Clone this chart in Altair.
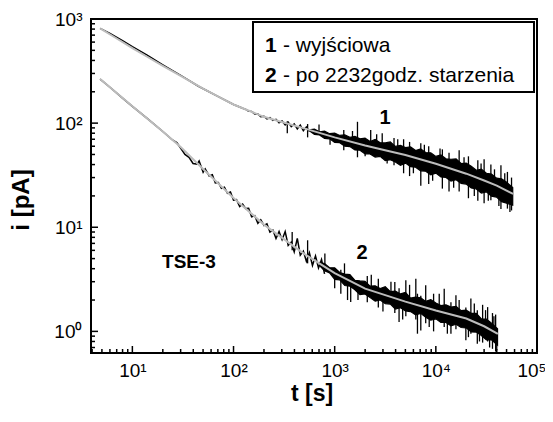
import altair as alt
import pandas as pd
import math

# ---------------- data ----------------
# grey fitted curves
t1_fit = [4.8, 7, 10, 14, 20, 30, 50, 70, 100, 200, 300, 500, 1000, 2000, 3000, 5000, 10000, 20000, 30000, 40000, 58000]
i1_fit = [813, 650, 525, 434, 355, 284, 214, 181, 151, 115, 102.6, 89, 73, 61, 55.6, 49.5, 40.7, 32.7, 28.1, 25.1, 20.9]
t2_fit = [4.8, 7, 10, 14, 20, 30, 50, 100, 200, 300, 500, 1000, 2000, 5000, 10000, 20000, 30000, 41000]
i2_fit = [265, 194.5, 145, 110.7, 83.2, 58.9, 36.3, 19.1, 10.6, 7.96, 5.56, 3.63, 2.57, 1.93, 1.585, 1.33, 1.12, 0.944]

# black measured curves (low-noise part)
t1_line = [4.8, 6, 8, 10, 14, 20, 30, 45, 70, 100, 125, 132, 141, 151, 162, 174, 186, 200, 214, 229, 245,
           263, 282, 302, 324, 347, 372, 398, 427, 457, 490, 525, 562]
i1_line = [813, 729, 621, 543, 449, 363, 287, 226, 181, 151, 138, 135.5, 130.3, 129.7, 122.5, 122.2, 115.3,
           116.1, 109.6, 112.7, 106.2, 108.9, 100.9, 105.0, 96.2, 102.1, 92.5, 98.2, 87.9, 95.7, 84.5, 92.0, 83.4]
t2_line = [4.8, 6, 8, 10, 14, 20, 25.1, 27.5, 30.2, 33.1, 36.3, 39.8, 43.7, 45.7, 50.1, 52.5, 57.5, 61.7,
           66.1, 70.8, 75.9, 81.3, 87.1, 93.3, 100, 107, 115, 123, 132, 141, 151, 162, 174, 186, 200, 214, 229,
           245, 263, 282, 302, 324, 347, 372, 398, 427, 457, 490, 525, 562, 603, 646, 692, 741, 794]
i2_line = [265, 221, 174, 145, 111, 83.2, 68.5, 64.9, 57.1, 50.0, 46.9, 41.0, 40.4, 43.4, 33.8, 36.3, 31.1,
           32.0, 26.7, 26.9, 23.6, 24.2, 21.2, 21.8, 18.2, 18.4, 15.8, 16.7, 15.1, 15.2, 12.6, 12.9, 10.9, 11.8,
           10.4, 10.8, 9.0, 9.4, 7.8, 9.1, 7.6, 9.1, 6.7, 7.2, 5.8, 7.8, 5.4, 5.9, 4.7, 5.7, 4.3, 5.3,
           4.06, 4.9, 3.56]

# dense noise band of the black curves (lower / upper edge)
t1_band = [562, 631, 708, 794, 891, 1000, 1122, 1259, 1413, 1585, 1778, 1995, 2239, 2512, 2818, 3162, 3548,
           3981, 4467, 5012, 5623, 6310, 7079, 7943, 8913, 10000, 11220, 12589, 14125, 15849, 17783, 19953,
           22387, 25119, 28184, 31623, 35481, 39811, 44668, 50119, 57544]
i1_hi = [86.3, 87.5, 82.6, 83.7, 79.2, 80.3, 76.2, 77.3, 73.2, 74.5, 70.6, 71.6, 66.6, 69.6, 64.7, 64.6, 65.9,
         59.8, 61.1, 58.2, 59.0, 54.6, 56.4, 52.2, 51.8, 47.9, 49.4, 45.5, 45.0, 45.3, 40.9, 41.2, 38.5, 35.3,
         36.1, 33.0, 32.4, 29.6, 29.2, 27.0, 24.1]
i1_lo = [84.4, 78.0, 77.1, 71.3, 70.6, 65.4, 64.9, 60.0, 59.6, 55.2, 54.9, 50.7, 50.6, 47.2, 48.0, 43.6, 44.6,
         42.3, 39.4, 41.3, 38.2, 37.7, 34.8, 34.5, 31.9, 33.1, 30.4, 30.1, 27.8, 28.6, 26.4, 26.0, 23.8, 23.3,
         21.3, 21.9, 19.9, 19.5, 17.6, 17.0, 16.3]
t2_band = [708, 794, 891, 1000, 1122, 1259, 1413, 1585, 1778, 1995, 2239, 2512, 2818, 3162, 3548, 3981, 4467,
           5012, 5623, 6310, 7079, 7943, 8913, 10000, 11220, 12589, 14125, 15849, 17783, 19953, 22387, 25119,
           28184, 31623, 35481, 40738]
i2_hi = [4.59, 4.48, 4.09, 4.08, 3.68, 3.55, 3.51, 3.09, 3.05, 3.02, 2.72, 2.74, 2.58, 2.68, 2.41, 2.44, 2.29,
         2.37, 2.09, 2.13, 2.10, 1.94, 2.02, 1.87, 1.77, 1.80, 1.71, 1.74, 1.58, 1.60, 1.49, 1.49, 1.32, 1.31,
         1.20, 1.06]
i2_lo = [4.29, 3.82, 3.64, 3.16, 3.13, 2.76, 2.72, 2.51, 2.26, 2.29, 2.11, 1.95, 2.00, 1.85, 1.83, 1.64, 1.69,
         1.57, 1.55, 1.44, 1.49, 1.37, 1.28, 1.32, 1.22, 1.22, 1.13, 1.17, 1.09, 1.08, 0.986, 0.984, 0.914,
         0.827, 0.832, 0.736]

# isolated noise spikes (lower / upper end)
t1_spk = [340, 540, 700, 900, 1230, 1500, 1680, 2000, 2270, 2600, 2950, 3300, 3860, 4200, 4800, 5500, 6000,
          7100, 7700, 8500, 9300, 11000, 11600, 13500, 15000, 17000, 19000, 21000, 24000, 26000, 28000, 30000,
          33000, 35000, 38000, 42000, 44000, 48000, 51000, 54000, 56000]
i1_spk_lo = [80, 73, 81, 62, 55, 65.8, 47, 48, 50, 57, 46, 41, 39.5, 51.6, 33, 31, 33, 25, 43.9, 26, 28, 39.5,
             23.5, 22, 24, 22, 33, 19, 20, 18, 28.8, 17, 18, 18.2, 25.6, 16, 15, 22.9, 15.1, 14, 14.5]
i1_spk_hi = [104, 98, 97, 75, 86, 84, 103, 61, 86, 78, 80, 54, 72, 70, 70, 66, 47, 64, 62, 60, 41.6, 57, 56,
             52, 36, 55, 47, 48, 30.5, 44, 41, 45, 27, 40, 36, 24.5, 39.5, 33, 34, 21.6, 30]
t2_spk = [380, 540, 800, 1000, 1150, 1250, 1340, 1440, 1700, 2100, 2300, 2700, 3000, 3600, 3930, 4330, 4700,
          5050, 5500, 6340, 6580, 7100, 7940, 8600, 9500, 10800, 12100, 13000, 14100, 15800, 17000, 19800,
          21000, 22200, 24000, 25700, 27000, 29000, 31000, 32500, 34000, 36300, 37500, 39000, 40000]
i2_spk_lo = [6.0, 4.5, 4.17, 2.6, 2.3, 3.24, 2.0, 1.91, 2.0, 1.9, 2.46, 1.7, 1.55, 2.14, 1.5, 1.23, 1.3, 1.4,
             1.88, 1.3, 0.95, 1.02, 1.2, 1.1, 1.0, 1.56, 1.1, 0.95, 0.95, 1.05, 1.39, 0.82, 0.88, 0.95, 1.23,
             0.76, 0.8, 0.78, 1.10, 0.8, 0.7, 0.68, 0.99, 0.64, 0.66]
i2_spk_hi = [9.0, 7.5, 5.6, 3.63, 3.9, 4.5, 3.4, 3.3, 2.79, 3.4, 3.5, 3.2, 2.26, 3.0, 2.98, 2.6, 1.97, 3.09,
             2.8, 3.2, 2.3, 2.2, 2.77, 1.66, 2.3, 2.3, 2.57, 1.49, 1.9, 2.22, 2.0, 1.7, 1.31, 2.07, 1.85, 1.6,
             1.17, 1.8, 1.6, 1.71, 1.05, 1.5, 1.4, 1.45, 0.97]

# axes
x_domain = [3.9, 100000]
y_domain = [0.62, 1000]
x_major = [10, 100, 1000, 10000, 100000]
y_major = [1, 10, 100, 1000]
x_minor = [4, 5, 6, 7, 8, 9, 20, 30, 40, 50, 60, 70, 80, 90, 200, 300, 400, 500, 600, 700, 800, 900,
           2000, 3000, 4000, 5000, 6000, 7000, 8000, 9000, 20000, 30000, 40000, 50000, 60000,
           70000, 80000, 90000]
y_minor = [0.7, 0.8, 0.9, 2, 3, 4, 5, 6, 7, 8, 9, 20, 30, 40, 50, 60, 70, 80, 90, 200, 300, 400,
           500, 600, 700, 800, 900]

legend_nums = ["1", "2"]
legend_desc = ["- wyjściowa", "- po 2232godz. starzenia"]
curve_labels = ["1", "2"]
sample_label = "TSE-3"
x_title = "t [s]"
y_title = "i [pA]"

# ---------------- chart ----------------
W, H = 446, 334
FONT = "Liberation Sans"
GREY = "#bcbcbc"
MAJOR_LEN, MINOR_LEN = 7, 4

xs = alt.Scale(type="log", domain=x_domain, nice=False)
ys = alt.Scale(type="log", domain=y_domain, nice=False)

SUP = "['⁰','¹','²','³','⁴','⁵'][round(log(datum.value)/LN10)]"

x_label_axis = alt.Axis(orient="bottom", values=x_major, labelExpr="'10' + " + SUP, ticks=False,
                        domain=False, grid=False, title=None, labelFont=FONT, labelFontSize=19,
                        labelColor="black", labelPadding=8, labelFlush=3, labelFlushOffset=9,
                        labelOverlap=False)
y_label_axis = alt.Axis(orient="left", values=y_major, labelExpr="'10' + " + SUP, ticks=False,
                        domain=False, grid=False, title=None, labelFont=FONT, labelFontSize=19,
                        labelColor="black", labelPadding=9, labelFlush=False, labelOverlap=False)

fit1_df = pd.DataFrame({"t": t1_fit, "i": i1_fit})
fit2_df = pd.DataFrame({"t": t2_fit, "i": i2_fit})
line1_df = pd.DataFrame({"t": t1_line, "i": i1_line})
line2_df = pd.DataFrame({"t": t2_line, "i": i2_line})
band1_df = pd.DataFrame({"t": t1_band, "lo": i1_lo, "hi": i1_hi})
band2_df = pd.DataFrame({"t": t2_band, "lo": i2_lo, "hi": i2_hi})
spk1_df = pd.DataFrame({"t": t1_spk, "lo": i1_spk_lo, "hi": i1_spk_hi})
spk2_df = pd.DataFrame({"t": t2_spk, "lo": i2_spk_lo, "hi": i2_spk_hi})


def band(df):
    return alt.Chart(df).mark_area(color="black", stroke="black", strokeWidth=1.2, opacity=1).encode(
        x=alt.X("t:Q", scale=xs, axis=None),
        y=alt.Y("lo:Q", scale=ys, axis=None),
        y2="hi:Q")


def spikes(df):
    return alt.Chart(df).mark_rule(color="black", strokeWidth=1.3).encode(
        x=alt.X("t:Q", scale=xs, axis=None),
        y=alt.Y("lo:Q", scale=ys, axis=None),
        y2="hi:Q")


def line(df, color, width, xaxis=None, yaxis=None):
    return alt.Chart(df).mark_line(color=color, strokeWidth=width).encode(
        x=alt.X("t:Q", scale=xs, axis=xaxis),
        y=alt.Y("i:Q", scale=ys, axis=yaxis))


# inward pointing axis ticks: tick length in pixels turned into the log-scale factor
px_per_dec_y = H / math.log10(y_domain[1] / y_domain[0])
px_per_dec_x = W / math.log10(x_domain[1] / x_domain[0])


def x_ticks(values, length):
    f = 10 ** (length / px_per_dec_y)
    df = pd.DataFrame({"t": values, "a": [y_domain[0]] * len(values), "b": [y_domain[0] * f] * len(values)})
    return alt.Chart(df).mark_rule(color="black", strokeWidth=1.5).encode(
        x=alt.X("t:Q", scale=xs, axis=None),
        y=alt.Y("a:Q", scale=ys, axis=None), y2="b:Q")


def y_ticks(values, length):
    f = 10 ** (length / px_per_dec_x)
    df = pd.DataFrame({"i": values, "a": [x_domain[0]] * len(values), "b": [x_domain[0] * f] * len(values)})
    return alt.Chart(df).mark_rule(color="black", strokeWidth=1.5).encode(
        y=alt.Y("i:Q", scale=ys, axis=None),
        x=alt.X("a:Q", scale=xs, axis=None), x2="b:Q")


one = pd.DataFrame({"a": [0]})


def text(s, x, y, size, bold=False, align="center", baseline="middle", angle=0):
    kw = dict(text=s, font=FONT, fontSize=size, color="black", align=align, baseline=baseline)
    if bold:
        kw["fontWeight"] = "bold"
    if angle:
        kw["angle"] = angle
    return alt.Chart(one).mark_text(**kw).encode(x=alt.value(x), y=alt.value(y))


legend_box = alt.Chart(one).mark_rect(fill="white", stroke="black", strokeWidth=2).encode(
    x=alt.value(162), x2=alt.value(443), y=alt.value(3), y2=alt.value(73))

layers = [
    band(band1_df), band(band2_df), spikes(spk1_df), spikes(spk2_df),
    line(line1_df, "black", 1.5), line(line2_df, "black", 1.5),
    line(fit1_df, GREY, 2), line(fit2_df, GREY, 2, x_label_axis, y_label_axis),
    x_ticks(x_major, MAJOR_LEN), x_ticks(x_minor, MINOR_LEN),
    y_ticks(y_major, MAJOR_LEN), y_ticks(y_minor, MINOR_LEN),
    legend_box,
    text(legend_nums[0], 174, 33, 21, bold=True, align="left", baseline="alphabetic"),
    text(legend_desc[0], 192, 33, 21, align="left", baseline="alphabetic"),
    text(legend_nums[1], 174, 63, 21, bold=True, align="left", baseline="alphabetic"),
    text(legend_desc[1], 192, 63, 21, align="left", baseline="alphabetic"),
    text(curve_labels[0], 294, 99, 20, bold=True),
    text(curve_labels[1], 271, 234, 20, bold=True),
    text(sample_label, 98, 243, 19, bold=True),
    text(x_title, 221, 382, 23, bold=True, baseline="alphabetic"),
    text(y_title, -69, 181, 24, bold=True, angle=270),
]

chart = alt.layer(*layers).resolve_axis(x="independent", y="independent").properties(
    width=W, height=H,
    autosize=alt.AutoSizeParams(type="none"),
    padding={"left": 83, "top": 11, "right": 8, "bottom": 54},
).configure_view(stroke="black", strokeWidth=2)

chart.save("out.html", embed_options={"renderer": "svg", "actions": False})
